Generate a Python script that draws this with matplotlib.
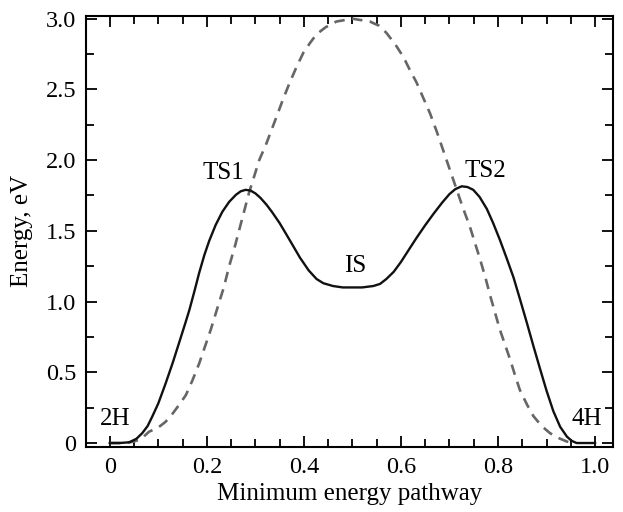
import matplotlib
matplotlib.use("Agg")
import matplotlib.pyplot as plt
from matplotlib.ticker import MultipleLocator

plt.rcParams['font.family'] = ['Liberation Serif', 'DejaVu Serif']

# Solid curve (MEP)
solid_x = [0.0, 0.02, 0.04, 0.055, 0.067, 0.078, 0.088, 0.10, 0.115, 0.13, 0.143, 0.155,
           0.164, 0.175, 0.184, 0.195, 0.205, 0.218, 0.232, 0.246, 0.26, 0.27, 0.28, 0.29,
           0.30, 0.31, 0.323, 0.335, 0.35, 0.363, 0.375, 0.392, 0.41, 0.426, 0.44, 0.46,
           0.48, 0.50, 0.52, 0.543, 0.557, 0.57, 0.585, 0.60, 0.615, 0.632, 0.65, 0.667,
           0.685, 0.70, 0.712, 0.725, 0.737, 0.749, 0.762, 0.777, 0.79, 0.804, 0.818,
           0.832, 0.845, 0.859, 0.873, 0.887, 0.90, 0.914, 0.928, 0.942, 0.952, 0.962,
           0.98, 1.0]
solid_y = [0.0, 0.0, 0.005, 0.03, 0.07, 0.12, 0.19, 0.28, 0.42, 0.57, 0.71, 0.84,
           0.94, 1.08, 1.20, 1.33, 1.43, 1.54, 1.635, 1.705, 1.755, 1.78, 1.79, 1.785,
           1.765, 1.735, 1.685, 1.63, 1.555, 1.48, 1.41, 1.31, 1.22, 1.16, 1.13, 1.11,
           1.10, 1.10, 1.10, 1.11, 1.125, 1.16, 1.21, 1.28, 1.36, 1.45, 1.54, 1.62,
           1.70, 1.76, 1.795, 1.815, 1.81, 1.79, 1.74, 1.655, 1.555, 1.435, 1.305,
           1.17, 1.02, 0.855, 0.685, 0.52, 0.37, 0.225, 0.115, 0.045, 0.015, 0.0,
           0.0, 0.0]

# Dashed curve
dash_x = [0.0, 0.03, 0.05, 0.065, 0.081, 0.10, 0.115, 0.13, 0.145, 0.157, 0.17, 0.184,
          0.196, 0.208, 0.225, 0.235, 0.246, 0.257, 0.267, 0.277, 0.287, 0.298, 0.308,
          0.323, 0.344, 0.357, 0.371, 0.385, 0.399, 0.413, 0.426, 0.445, 0.467, 0.50,
          0.536, 0.555, 0.57, 0.588, 0.605, 0.618, 0.632, 0.646, 0.66, 0.674, 0.687,
          0.70, 0.715, 0.728, 0.742, 0.752, 0.763, 0.774, 0.784, 0.794, 0.804, 0.815,
          0.825, 0.835, 0.845, 0.86, 0.873, 0.89, 0.907, 0.925, 0.942, 0.96]
dash_y = [0.0, 0.0, 0.01, 0.03, 0.08, 0.11, 0.15, 0.21, 0.28, 0.34, 0.44, 0.56,
          0.68, 0.80, 0.99, 1.10, 1.25, 1.38, 1.51, 1.64, 1.77, 1.89, 2.00,
          2.12, 2.31, 2.43, 2.55, 2.66, 2.76, 2.83, 2.89, 2.94, 2.98, 3.0,
          2.98, 2.95, 2.90, 2.82, 2.73, 2.64, 2.55, 2.44, 2.33, 2.20, 2.07,
          1.94, 1.79, 1.66, 1.53, 1.42, 1.30, 1.17, 1.04, 0.92, 0.80, 0.69,
          0.59, 0.48, 0.375, 0.27, 0.19, 0.12, 0.07, 0.035, 0.01, 0.0]

labels = ["2H", "TS1", "IS", "TS2", "4H"]
label_x = [0.011, 0.235, 0.505, 0.773, 0.983]
label_y = [0.17, 1.91, 1.25, 1.92, 0.17]

xticks = [0, 0.2, 0.4, 0.6, 0.8, 1.0]
xticklabels = ["0", "0.2", "0.4", "0.6", "0.8", "1.0"]
yticks = [0, 0.5, 1.0, 1.5, 2.0, 2.5, 3.0]
yticklabels = ["0", "0.5", "1.0", "1.5", "2.0", "2.5", "3.0"]

fig = plt.figure(figsize=(6.23, 5.12), dpi=100)
ax = fig.add_axes([0.138, 0.127, 0.846, 0.842])

ax.plot(dash_x, dash_y, color="#666666", lw=1.9, linestyle=(0, (4, 2.8)), zorder=2)
ax.plot(solid_x, solid_y, color="#111111", lw=1.7, zorder=3)

for t, x, y in zip(labels, label_x, label_y):
    ax.text(x, y, t, fontsize=18, ha="center", va="center")

ax.set_xlim(-0.049, 1.037)
ax.set_ylim(-0.028, 3.02)
ax.set_xticks(xticks)
ax.set_xticklabels(xticklabels)
ax.set_yticks(yticks)
ax.set_yticklabels(yticklabels)
ax.xaxis.set_minor_locator(MultipleLocator(0.05))
ax.yaxis.set_minor_locator(MultipleLocator(0.25))
ax.tick_params(which="both", direction="in", top=True, right=True, labelsize=17.5, width=1.3)
ax.tick_params(which="major", length=8, pad=7)
ax.tick_params(which="minor", length=6)
for s in ax.spines.values():
    s.set_linewidth(1.5)

ax.set_xlabel("Minimum energy pathway", fontsize=18, labelpad=4)
ax.set_ylabel("Energy, eV", fontsize=18, labelpad=9)

fig.savefig("out.png", dpi=100)
